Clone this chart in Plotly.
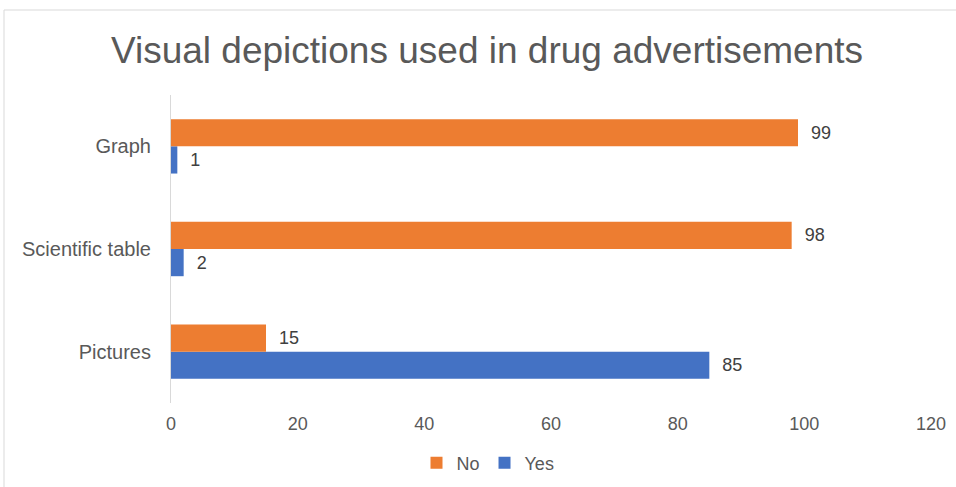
import plotly.graph_objects as go

categories = ["Pictures", "Scientific table", "Graph"]
yes_values = [85, 2, 1]
no_values = [15, 98, 99]
x_ticks = [0, 20, 40, 60, 80, 100, 120]

font_family = "Liberation Sans, Arial, sans-serif"
text_color = "#595959"

fig = go.Figure()
fig.add_trace(go.Bar(
    name="Yes", y=categories, x=yes_values, orientation="h",
    marker=dict(color="#4472C4", line=dict(width=0)),
    texttemplate="  %{x}", textposition="outside",
    textfont=dict(size=18, color="#404040", family=font_family),
    legendrank=2, cliponaxis=False,
))
fig.add_trace(go.Bar(
    name="No", y=categories, x=no_values, orientation="h",
    marker=dict(color="#ED7D31", line=dict(width=0)),
    texttemplate="  %{x}", textposition="outside",
    textfont=dict(size=18, color="#404040", family=font_family),
    legendrank=1, cliponaxis=False,
))

fig.update_layout(
    width=956, height=487,
    margin=dict(l=171, r=25, t=95, b=84, autoexpand=False),
    paper_bgcolor="white", plot_bgcolor="white",
    barmode="group", bargap=0.47, bargroupgap=0,
    font=dict(family=font_family, color=text_color, size=18),
    title=dict(text="Visual depictions used in drug advertisements",
               x=487 / 956, xref="container", xanchor="center",
               y=1 - 50 / 487, yref="container", yanchor="middle",
               font=dict(size=37, color=text_color, family=font_family)),
    showlegend=True,
    legend=dict(orientation="h", x=488 / 956, xref="container", xanchor="center",
                y=1 - 463 / 487, yref="container", yanchor="middle",
                font=dict(size=18, color=text_color),
                itemwidth=30, tracegroupgap=0),
    xaxis=dict(range=[0, 120], tickvals=x_ticks, showgrid=False,
               zeroline=False, showline=False, ticks="",
               ticklabelstandoff=8,
               tickfont=dict(size=18, color=text_color)),
    yaxis=dict(showgrid=False, zeroline=False, showline=True,
               linecolor="#D9D9D9", linewidth=1, ticks="",
               ticklabelstandoff=15,
               tickfont=dict(size=20, color=text_color)),
    shapes=[dict(type="rect", xref="paper", yref="paper",
                 x0=(4 - 171) / 760, x1=1.2, y0=-0.5, y1=1 + (95 - 10) / 308,
                 line=dict(color="#D9D9D9", width=1), fillcolor="rgba(0,0,0,0)",
                 layer="below")],
)

fig.write_html("out.html", config={"displayModeBar": False},
               post_script="document.body.style.margin='0';")
